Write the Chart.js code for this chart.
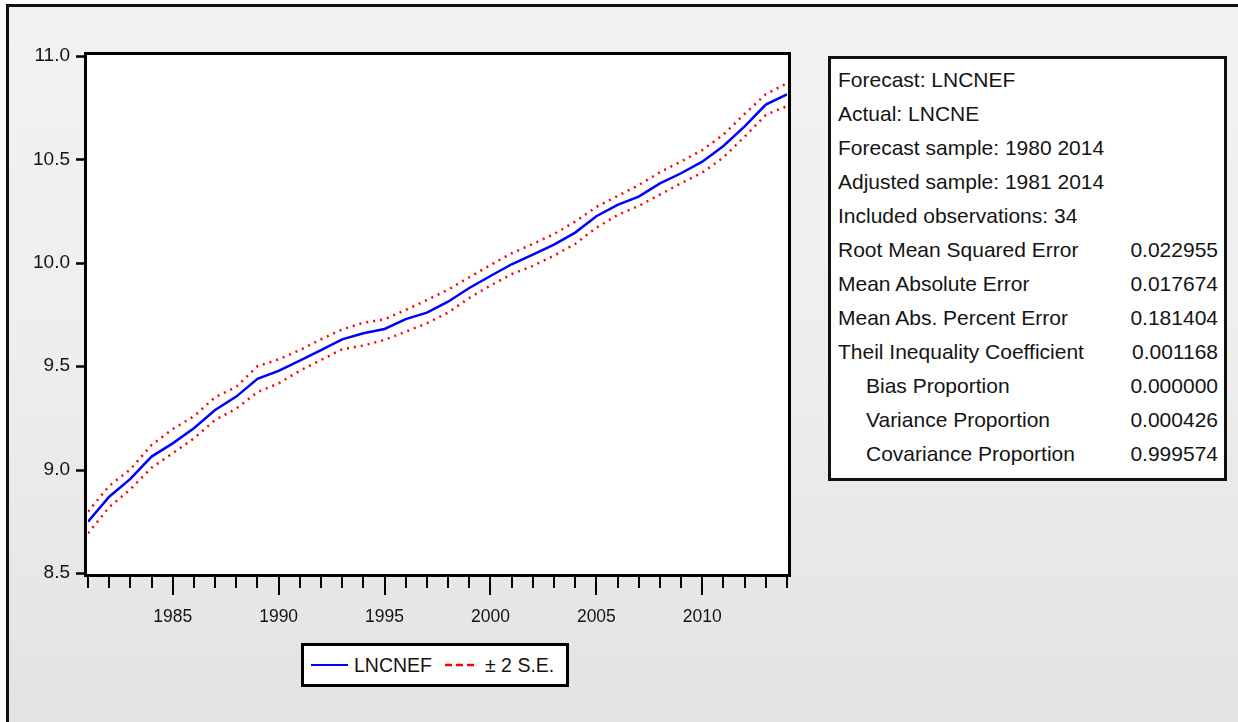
<!DOCTYPE html>
<html>
<head>
<meta charset="utf-8">
<script src="https://cdn.jsdelivr.net/npm/chart.js@4.4.1/dist/chart.umd.min.js"></script>
<style>
  html, body { margin: 0; padding: 0; width: 1238px; height: 722px; overflow: hidden; background: #fff; }
  #frame {
    position: absolute; left: 6px; top: 4px; width: 1260px; height: 740px;
    border: 3px solid #111;
    background: linear-gradient(#f2f2f2 0%, #eeeeee 45%, #e2e2e2 100%);
  }
  #plot { position: absolute; left: 0; top: 0; }
  #stats {
    position: absolute; left: 828px; top: 56px; width: 393px; height: 419px;
    border: 3px solid #111; background: #fff;
    font: 21px "Liberation Sans", Arial, sans-serif; color: #141414;
  }
  .row { position: absolute; left: 7px; right: 6px; height: 34px; line-height: 34px; white-space: nowrap; }
  .row .v { position: absolute; right: 0; top: 0; }
  .row.ind .k { padding-left: 28px; }
  #legend {
    position: absolute; left: 301px; top: 643px; width: 262px; height: 38px;
    border: 3px solid #000; background: #fff;
    font: 19.5px "Liberation Sans", Arial, sans-serif; color: #141414;
  }
  #legend .txt { position: absolute; top: 0; height: 38px; line-height: 38px; white-space: nowrap; }
  #legend .swatch { position: absolute; top: 18px; height: 2px; }
</style>
</head>
<body>
<div id="frame"></div>
<canvas id="plot" width="820" height="680"></canvas>

<div id="stats"></div>

<div id="legend">
  <div class="swatch" style="left:7px;width:37px;background:#0000ff;"></div>
  <div class="txt" style="left:50px;">LNCNEF</div>
  <svg class="swatch" style="left:141px;top:17px;width:32px;height:4px;" width="32" height="4">
    <line x1="0" y1="2" x2="32" y2="2" stroke="#ff0000" stroke-width="2.5" stroke-dasharray="7,4"/>
  </svg>
  <div class="txt" style="left:181px;">± 2 S.E.</div>
</div>

<script>
// Forecast of LNCNE with a ±2 standard error band, 1981–2014
const years = [1981, 1982, 1983, 1984, 1985, 1986, 1987, 1988, 1989, 1990,
               1991, 1992, 1993, 1994, 1995, 1996, 1997, 1998, 1999, 2000,
               2001, 2002, 2003, 2004, 2005, 2006, 2007, 2008, 2009, 2010,
               2011, 2012, 2013, 2014];

const forecast = [8.748, 8.869, 8.955, 9.063, 9.127, 9.200, 9.288, 9.353, 9.439, 9.477,
                  9.527, 9.578, 9.630, 9.659, 9.680, 9.728, 9.759, 9.812, 9.878, 9.936,
                  9.993, 10.039, 10.088, 10.146, 10.225, 10.280, 10.320, 10.384, 10.433, 10.489,
                  10.565, 10.660, 10.765, 10.815];

const upperBand = [8.797, 8.921, 9.001, 9.119, 9.196, 9.258, 9.350, 9.400, 9.500, 9.533,
                   9.578, 9.630, 9.678, 9.710, 9.727, 9.772, 9.820, 9.870, 9.930, 9.989,
                   10.046, 10.091, 10.139, 10.199, 10.270, 10.323, 10.376, 10.438, 10.490, 10.545,
                   10.620, 10.720, 10.815, 10.868];

const lowerBand = [8.692, 8.818, 8.905, 9.009, 9.079, 9.151, 9.240, 9.295, 9.375, 9.417,
                   9.478, 9.530, 9.582, 9.600, 9.627, 9.667, 9.708, 9.759, 9.830, 9.890,
                   9.945, 9.985, 10.035, 10.091, 10.170, 10.231, 10.275, 10.330, 10.385, 10.436,
                   10.510, 10.610, 10.715, 10.758];

const yTickValues = [8.5, 9.0, 9.5, 10.0, 10.5, 11.0];
const xLabelYears = [1985, 1990, 1995, 2000, 2005, 2010];

const statsRows = [
  ["Forecast: LNCNEF", "", false],
  ["Actual: LNCNE", "", false],
  ["Forecast sample: 1980 2014", "", false],
  ["Adjusted sample: 1981 2014", "", false],
  ["Included observations: 34", "", false],
  ["Root Mean Squared Error", "0.022955", false],
  ["Mean Absolute Error", "0.017674", false],
  ["Mean Abs. Percent Error", "0.181404", false],
  ["Theil Inequality Coefficient", "0.001168", false],
  ["Bias Proportion", "0.000000", true],
  ["Variance Proportion", "0.000426", true],
  ["Covariance Proportion", "0.999574", true]
];

// statistics panel
const statsBox = document.getElementById('stats');
statsRows.forEach((r, i) => {
  const row = document.createElement('div');
  row.className = 'row' + (r[2] ? ' ind' : '');
  row.style.top = (4 + 34 * i) + 'px';
  const k = document.createElement('span');
  k.className = 'k';
  k.textContent = r[0];
  row.appendChild(k);
  if (r[1]) {
    const v = document.createElement('span');
    v.className = 'v';
    v.textContent = r[1];
    row.appendChild(v);
  }
  statsBox.appendChild(row);
});

const toPoints = arr => years.map((yr, i) => ({ x: yr, y: arr[i] }));

// white plot area, heavy frame and outward tick marks
const plotFrame = {
  id: 'plotFrame',
  beforeDatasetsDraw(chart) {
    const { ctx, chartArea: a } = chart;
    ctx.save();
    ctx.fillStyle = '#ffffff';
    ctx.fillRect(a.left - 3, a.top - 3, a.right - a.left + 6, a.bottom - a.top + 5);
    ctx.restore();
  },
  afterDraw(chart) {
    const { ctx, chartArea: a, scales } = chart;
    ctx.save();
    ctx.strokeStyle = '#000';
    ctx.lineWidth = 3;
    ctx.strokeRect(a.left - 2.5, a.top - 2.5, a.right - a.left + 5, a.bottom - a.top + 5);

    ctx.lineWidth = 2.5;
    yTickValues.forEach(v => {
      const py = Math.round(scales.y.getPixelForValue(v)) + 0.5;
      ctx.beginPath();
      ctx.moveTo(a.left - 12, py);
      ctx.lineTo(a.left - 3, py);
      ctx.stroke();
    });

    ctx.lineWidth = 2;
    years.forEach(yr => {
      const px = Math.round(scales.x.getPixelForValue(yr));
      const len = yr % 5 === 0 ? 22 : 15;
      ctx.beginPath();
      ctx.moveTo(px, a.bottom + 4);
      ctx.lineTo(px, a.bottom + len);
      ctx.stroke();
    });
    ctx.restore();
  }
};

const fontFamily = "'Liberation Sans', Arial, sans-serif";

new Chart(document.getElementById('plot'), {
  type: 'line',
  data: {
    datasets: [
      {
        label: 'LNCNEF',
        data: toPoints(forecast),
        borderColor: '#0000ff',
        borderWidth: 2.5,
        pointRadius: 0,
        tension: 0
      },
      {
        label: '+2 S.E.',
        data: toPoints(upperBand),
        borderColor: '#ff0000',
        borderWidth: 2.5,
        borderDash: [2, 5],
        pointRadius: 0,
        tension: 0
      },
      {
        label: '-2 S.E.',
        data: toPoints(lowerBand),
        borderColor: '#ff0000',
        borderWidth: 2.5,
        borderDash: [2, 5],
        pointRadius: 0,
        tension: 0
      }
    ]
  },
  options: {
    responsive: false,
    animation: false,
    devicePixelRatio: 1,
    layout: { padding: { top: 56, right: 33, left: 0, bottom: 0 } },
    plugins: { legend: { display: false }, tooltip: { enabled: false } },
    scales: {
      x: {
        type: 'linear',
        min: 1981,
        max: 2014,
        grid: { display: false },
        border: { display: false },
        afterBuildTicks: s => { s.ticks = xLabelYears.map(v => ({ value: v })); },
        afterFit: s => { s.height = 107; },
        ticks: {
          autoSkip: false,
          maxRotation: 0,
          padding: 26,
          color: '#141414',
          font: { family: fontFamily, size: 17.5 },
          callback: v => String(v)
        }
      },
      y: {
        min: 8.5,
        max: 11.0,
        grid: { display: false },
        border: { display: false },
        afterBuildTicks: s => { s.ticks = yTickValues.map(v => ({ value: v })); },
        afterFit: s => { s.width = 88; },
        ticks: {
          padding: 10,
          color: '#141414',
          font: { family: fontFamily, size: 19 },
          callback: v => Number(v).toFixed(1)
        }
      }
    }
  },
  plugins: [plotFrame]
});
</script>
</body>
</html>
